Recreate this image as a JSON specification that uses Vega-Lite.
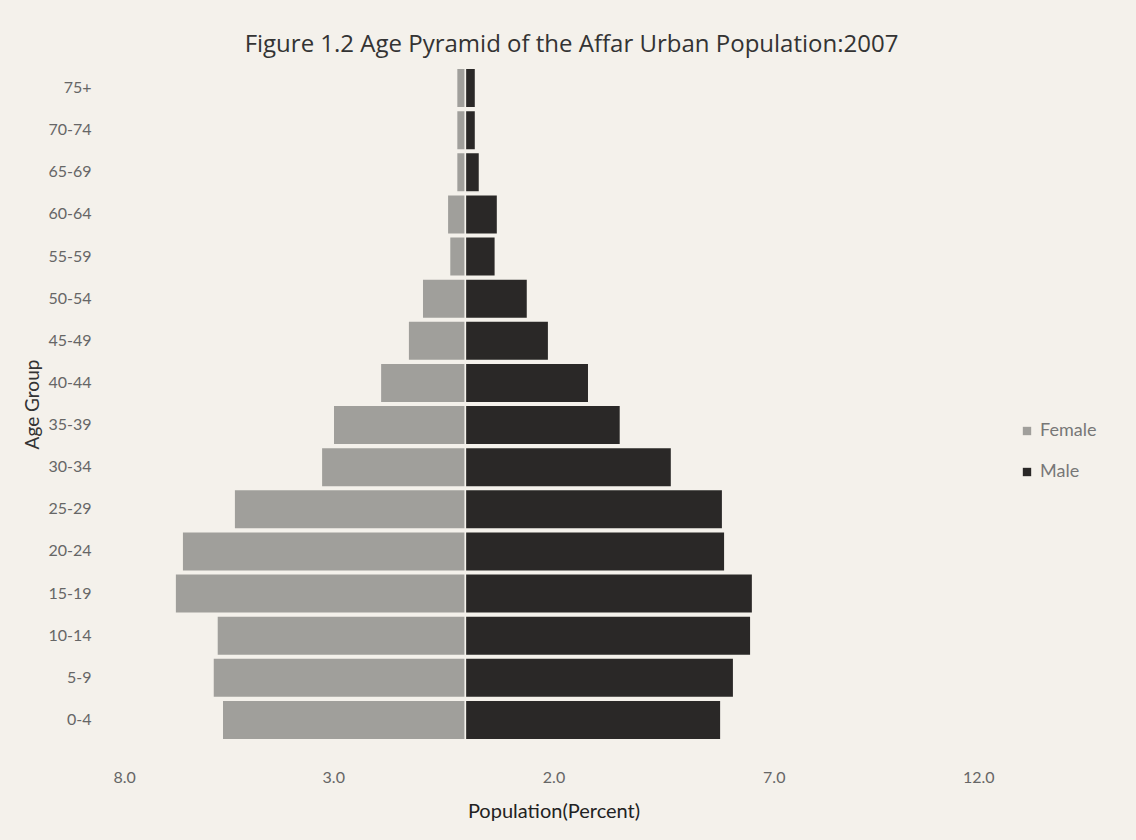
{
  "$schema": "https://vega.github.io/schema/vega-lite/v6.json",
  "width": 881,
  "height": 674,
  "autosize": {"type": "none"},
  "padding": {"left": 113, "top": 67, "right": 142, "bottom": 99},
  "background": "#f4f1eb",
  "config": {"view": {"stroke": null}},
  "title": {
    "text": "Figure 1.2 Age Pyramid of the Affar Urban Population:2007",
    "font": "Open Sans",
    "fontSize": 24,
    "fontWeight": 500,
    "color": "#333333",
    "anchor": "middle",
    "dx": 18,
    "offset": 10
  },
  "data": {
    "values": [
      {"age": "0-4", "sex": "Female", "percent": -5.52},
      {"age": "5-9", "sex": "Female", "percent": -5.73},
      {"age": "10-14", "sex": "Female", "percent": -5.64},
      {"age": "15-19", "sex": "Female", "percent": -6.59},
      {"age": "20-24", "sex": "Female", "percent": -6.43},
      {"age": "25-29", "sex": "Female", "percent": -5.25},
      {"age": "30-34", "sex": "Female", "percent": -3.27},
      {"age": "35-39", "sex": "Female", "percent": -3.0},
      {"age": "40-44", "sex": "Female", "percent": -1.93},
      {"age": "45-49", "sex": "Female", "percent": -1.3},
      {"age": "50-54", "sex": "Female", "percent": -0.98},
      {"age": "55-59", "sex": "Female", "percent": -0.36},
      {"age": "60-64", "sex": "Female", "percent": -0.41},
      {"age": "65-69", "sex": "Female", "percent": -0.2},
      {"age": "70-74", "sex": "Female", "percent": -0.2},
      {"age": "75+", "sex": "Female", "percent": -0.2},
      {"age": "0-4", "sex": "Male", "percent": 5.8},
      {"age": "5-9", "sex": "Male", "percent": 6.09},
      {"age": "10-14", "sex": "Male", "percent": 6.48},
      {"age": "15-19", "sex": "Male", "percent": 6.52},
      {"age": "20-24", "sex": "Male", "percent": 5.89},
      {"age": "25-29", "sex": "Male", "percent": 5.84},
      {"age": "30-34", "sex": "Male", "percent": 4.68},
      {"age": "35-39", "sex": "Male", "percent": 3.52},
      {"age": "40-44", "sex": "Male", "percent": 2.8},
      {"age": "45-49", "sex": "Male", "percent": 1.89},
      {"age": "50-54", "sex": "Male", "percent": 1.41},
      {"age": "55-59", "sex": "Male", "percent": 0.68},
      {"age": "60-64", "sex": "Male", "percent": 0.73},
      {"age": "65-69", "sex": "Male", "percent": 0.32},
      {"age": "70-74", "sex": "Male", "percent": 0.23},
      {"age": "75+", "sex": "Male", "percent": 0.23}
    ]
  },
  "mark": {"type": "bar", "stroke": "#f4f1eb", "strokeWidth": 1.5},
  "encoding": {
    "y": {
      "field": "age",
      "type": "nominal",
      "sort": ["75+", "70-74", "65-69", "60-64", "55-59", "50-54", "45-49", "40-44", "35-39", "30-34", "25-29", "20-24", "15-19", "10-14", "5-9", "0-4"],
      "scale": {"paddingInner": 0.06, "paddingOuter": 0.03},
      "axis": {
        "title": "Age Group",
        "titleFont": "Lato",
        "titleFontSize": 19,
        "titleFontWeight": "normal",
        "titleColor": "#333333",
        "titleX": -71,
        "titleY": 337,
        "titleAngle": -90,
        "titleAlign": "center",
        "titleBaseline": "bottom",
        "labelFont": "Lato",
        "labelFontSize": 16,
        "labelColor": "#666666",
        "labelPadding": 22,
        "ticks": false,
        "domain": false,
        "grid": false
      }
    },
    "x": {
      "field": "percent",
      "type": "quantitative",
      "scale": {"domain": [-8, 12], "nice": false, "zero": false},
      "axis": {
        "values": [-8, -3, 2, 7, 12],
        "labelExpr": "format(abs(datum.value), '.1f')",
        "title": "Population(Percent)",
        "titleFont": "Lato",
        "titleFontSize": 20,
        "titleFontWeight": "normal",
        "titleColor": "#222222",
        "titlePadding": 16,
        "labelFont": "Lato",
        "labelFontSize": 16,
        "labelColor": "#666666",
        "labelPadding": 28,
        "ticks": false,
        "domain": false,
        "grid": false
      }
    },
    "color": {
      "field": "sex",
      "type": "nominal",
      "scale": {"domain": ["Female", "Male"], "range": ["#a09f9b", "#2a2827"]},
      "legend": {
        "orient": "none",
        "legendX": 905,
        "legendY": 355,
        "title": null,
        "symbolType": "square",
        "symbolSize": 70,
        "symbolStrokeWidth": 0,
        "labelFont": "Lato",
        "labelFontSize": 18,
        "labelColor": "#777777",
        "rowPadding": 23,
        "labelOffset": 4
      }
    }
  }
}
